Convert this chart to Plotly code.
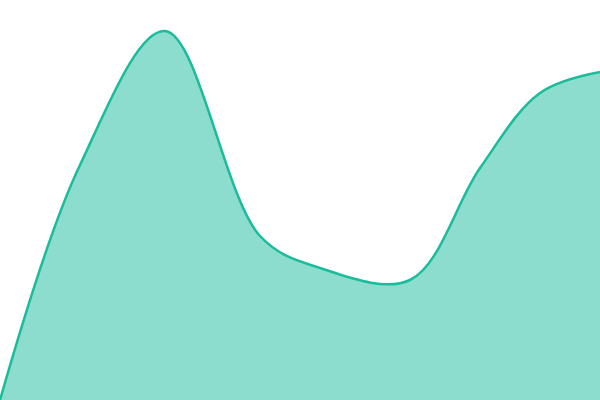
import plotly.graph_objects as go

# series values (y grows upward, plot spans 0..400 on both axes scale)
steps = [0, 80, 165, 260, 320, 410, 480, 540, 600]
values = [0, 235, 369, 164, 132, 120, 232, 307, 328]

line_color = '#1abc9c'
fill_color = 'rgba(26,188,156,0.5)'


def create_area_chart():
    """Single smooth filled area, no axes"""
    fig = go.Figure()

    fig.add_trace(go.Scatter(
        x=steps,
        y=values,
        mode='lines',
        line=dict(color=line_color, width=2.5, shape='spline', smoothing=1),
        fill='tozeroy',
        fillcolor=fill_color,
        hoverinfo='skip'
    ))

    fig.update_xaxes(visible=False, range=[steps[0], steps[-1]])
    fig.update_yaxes(visible=False, range=[0, 400])

    fig.update_layout(
        width=600,
        height=400,
        margin=dict(l=0, r=0, t=0, b=0),
        plot_bgcolor='white',
        paper_bgcolor='white',
        showlegend=False
    )
    return fig


fig = create_area_chart()
# drop the browser's default body margin so the chart sits flush in the window
fig.write_html("out.html", config={'displayModeBar': False},
               post_script="document.body.style.margin='0';")
